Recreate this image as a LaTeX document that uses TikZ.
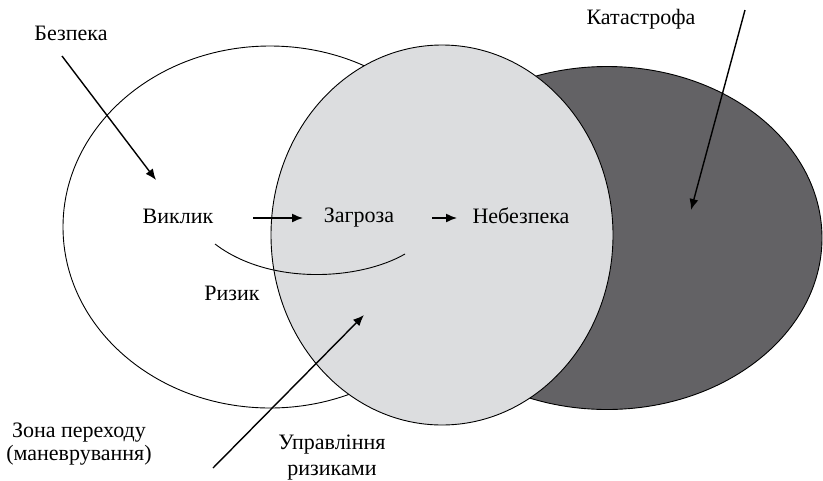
\documentclass[tikz,border=0pt]{standalone}
\usepackage{fontspec}
\setmainfont{Liberation Serif}
\usetikzlibrary{shapes.geometric,arrows.meta}
\definecolor{zonegray}{HTML}{DCDDDF}
\definecolor{catdark}{HTML}{636265}
\tikzset{
  zone/.style={ellipse, draw=black, line width=0.9pt, inner sep=0pt},
  lbl/.style={inner sep=0pt, anchor=base, font=\fontsize{22}{23}\selectfont, align=center},
  pointer/.style={draw=black, line width=1.4pt, -{Latex[length=11pt, width=9pt]}},
  flow/.style={draw=black, line width=1.4pt, -{Latex[length=11pt, width=9pt]}}
}
\begin{document}
\begin{tikzpicture}[x=1pt, y=-1pt]
\useasboundingbox (0,0) rectangle (823,480);
% three overlapping zones
\node[zone, fill=white, minimum width=414pt, minimum height=362pt] (safe) at (270,227) {};
\node[zone, fill=catdark, minimum width=430pt, minimum height=343pt] (cat) at (607,238) {};
\node[zone, fill=zonegray, minimum width=342pt, minimum height=380pt] (mid) at (442,235) {};

% labels (placed by the baseline of their last line)
\node[lbl] (bezpeka) at (71,40) {Безпека};
\node[lbl] (kat) at (641,24) {Катастрофа};
\node[lbl] (vyklyk) at (178,223) {Виклик};
\node[lbl] (zagroza) at (359,222) {Загроза};
\node[lbl] (nebezpeka) at (521,223) {Небезпека};
\node[lbl] (ryzyk) at (232,300) {Ризик};
\node[lbl] (zona) at (79,460) {Зона переходу\\(маневрування)};
\node[lbl] (upr) at (332,475) {Управління\\[3pt]ризиками};

% arrow end points
\coordinate (b0) at (62,56);
\coordinate (b1) at (156,180);
\coordinate (k0) at (745,10);
\coordinate (k1) at (691,210);
\coordinate (u0) at (213,468);
\coordinate (u1) at (364,315);
\coordinate (v0) at (253,218);
\coordinate (v1) at (303,218);
\coordinate (n0) at (432,218);
\coordinate (n1) at (457,218);
\coordinate (r0) at (215,244);
\coordinate (r1) at (405,254);

% risk arc
\draw[line width=0.9pt] (r0) .. controls (270,286) and (360,280) .. (r1);

% arrows
\draw[pointer] (b0) -- (b1);
\draw[pointer] (k0) -- (k1);
\draw[pointer] (u0) -- (u1);
\draw[flow] (v0) -- (v1);
\draw[flow] (n0) -- (n1);
\end{tikzpicture}
\end{document}
